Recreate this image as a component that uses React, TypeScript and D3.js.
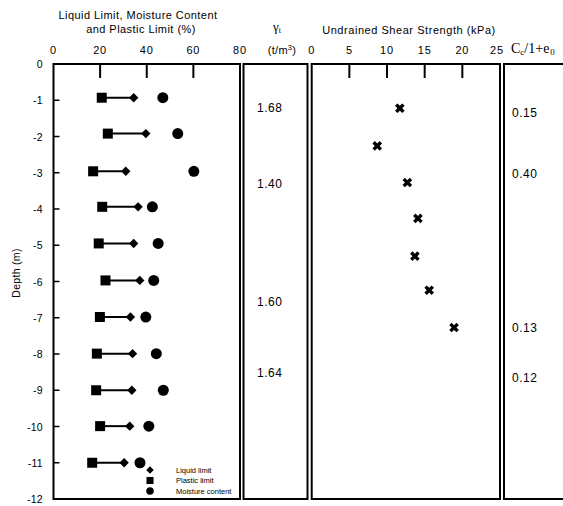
import React from "react";
import * as d3 from "d3";

const depthTicks = [0, -1, -2, -3, -4, -5, -6, -7, -8, -9, -10, -11, -12];
const limitTicks = [0, 20, 40, 60, 80];
const shearTicks = [0, 5, 10, 15, 20, 25];

const sampleDepths = [-0.93, -1.92, -2.96, -3.94, -4.95, -5.97, -6.98, -7.99, -9.0, -9.99, -11.0];
const plasticLimit = [20.7, 23.3, 17.0, 20.9, 19.4, 22.3, 19.9, 18.6, 18.3, 20.0, 16.6];
const liquidLimit = [34.4, 39.6, 31.0, 36.3, 34.4, 37.0, 33.0, 33.9, 33.6, 32.7, 30.3];
const moistureContent = [46.9, 53.3, 60.2, 42.4, 44.9, 43.0, 39.6, 44.1, 47.1, 40.9, 37.1];

const shearDepths = [-1.22, -2.26, -3.27, -4.26, -5.3, -6.24, -7.27];
const shearStrength = [11.7, 8.7, 12.7, 14.1, 13.7, 15.6, 18.9];

const gammaDepths = [-1.2, -3.3, -6.55, -8.5];
const gammaValues = ["1.68", "1.40", "1.60", "1.64"];

const ccDepths = [-1.33, -3.02, -7.28, -8.65];
const ccValues = ["0.15", "0.40", "0.13", "0.12"];

const legendLabels = ["Liquid limit", "Plastic   limit", "Moisture content"];

const FONT = "Liberation Sans, Arial, sans-serif";

export default function App() {
  const W = 563, H = 506;
  const top = 64, bottom = 499;
  const y = d3.scaleLinear().domain([0, -12]).range([top, bottom]);
  const p1 = { l: 53.5, r: 240 };
  const p2 = { l: 243.5, r: 307.5 };
  const p3 = { l: 311.7, r: 500 };
  const p4 = { l: 504, r: 570 };
  const x1 = d3.scaleLinear().domain([0, 80]).range([p1.l, p1.r]);
  const x3 = d3.scaleLinear().domain([0, 25]).range([p3.l, p3.r]);

  const square = d3.symbol().type(d3.symbolSquare).size(100)();
  const diamond = d3.symbol().type(d3.symbolSquare).size(44)();
  const circle = d3.symbol().type(d3.symbolCircle).size(95)();
  const cross = d3.symbol().type(d3.symbolCross).size(58)();
  const sqLeg = d3.symbol().type(d3.symbolSquare).size(50)();
  const diaLeg = d3.symbol().type(d3.symbolSquare).size(28)();
  const cirLeg = d3.symbol().type(d3.symbolCircle).size(45)();

  const panels = [p1, p2, p3, p4];

  return (
    <svg width={W} height={H} style={{ position: "absolute", left: 0, top: 0, background: "#fff" }} fontFamily={FONT}>
      <rect x={0} y={0} width={W} height={H} fill="#fff" />
      {/* headers */}
      <text x={138} y={19} fontSize={11} textAnchor="middle" letterSpacing={0.45}>Liquid Limit, Moisture Content</text>
      <text x={141} y={33} fontSize={11} textAnchor="middle" letterSpacing={0.45}>and Plastic Limit (%)</text>
      {limitTicks.map((t) => (
        <text key={"lt" + t} x={x1(t)} y={54} fontSize={11} textAnchor="middle" letterSpacing={0.8}>{t}</text>
      ))}
      <text x={277} y={31} fontSize={13} textAnchor="middle" fontFamily="Liberation Serif, serif">
        γ<tspan fontSize={8} dy={2}>t</tspan>
      </text>
      <text x={282} y={54} fontSize={11} textAnchor="middle" letterSpacing={0.3}>(t/m<tspan fontSize={7.5} dy={-4}>3</tspan><tspan dy={4}>)</tspan></text>
      <text x={409} y={34} fontSize={11} textAnchor="middle" letterSpacing={0.55}>Undrained Shear Strength (kPa)</text>
      {shearTicks.map((t) => (
        <text key={"st" + t} x={t === 25 ? x3(t) - 3 : x3(t)} y={54} fontSize={11} textAnchor="middle" letterSpacing={0.8}>{t}</text>
      ))}
      <text x={511} y={53} fontSize={14} fontFamily="Liberation Serif, serif">
        C<tspan fontSize={9} dy={2}>c</tspan><tspan dy={-2}>/1+e</tspan><tspan fontSize={9} dy={2} dx={1}>0</tspan>
      </text>

      {/* panel frames */}
      {panels.map((p, i) => (
        <rect key={"pf" + i} x={p.l} y={top} width={p.r - p.l} height={bottom - top} fill="none" stroke="#000" strokeWidth={2} />
      ))}

      {/* depth axis */}
      {depthTicks.map((t) => (
        <g key={"dt" + t}>
          <line x1={p1.l} x2={p1.l + 6} y1={y(t)} y2={y(t)} stroke="#000" strokeWidth={1.5} />
          <text x={43} y={y(t) + 4} fontSize={10.5} textAnchor="end" letterSpacing={0.3}>{t}</text>
        </g>
      ))}
      <text transform={`translate(20,${273}) rotate(-90)`} fontSize={10.5} textAnchor="middle" letterSpacing={0.3}>Depth (m)</text>

      {/* top inner ticks */}
      {limitTicks.slice(1, -1).map((t) => (
        <line key={"lit" + t} x1={x1(t)} x2={x1(t)} y1={top} y2={top + 14} stroke="#000" strokeWidth={2} />
      ))}
      {shearTicks.slice(1, -1).map((t) => (
        <line key={"sit" + t} x1={x3(t)} x2={x3(t)} y1={top} y2={top + 14} stroke="#000" strokeWidth={2} />
      ))}

      {/* limits */}
      {sampleDepths.map((d, i) => (
        <g key={"s" + i}>
          <line x1={x1(plasticLimit[i])} x2={x1(liquidLimit[i])} y1={y(d)} y2={y(d)} stroke="#000" strokeWidth={2} />
          <path d={square} transform={`translate(${x1(plasticLimit[i])},${y(d)})`} fill="#000" />
          <path d={diamond} transform={`translate(${x1(liquidLimit[i])},${y(d)}) rotate(45)`} fill="#000" />
          <path d={circle} transform={`translate(${x1(moistureContent[i])},${y(d)})`} fill="#000" />
        </g>
      ))}

      {/* legend */}
      {[diaLeg, sqLeg, cirLeg].map((s, i) => (
        <g key={"lg" + i}>
          <path d={s} transform={`translate(150,${470 + i * 10.5})${i === 0 ? " rotate(45)" : ""}`} fill="#000" />
          <text x={176} y={472.5 + i * 10.5} fontSize={7.5}>{legendLabels[i]}</text>
        </g>
      ))}

      {/* gamma */}
      {gammaDepths.map((d, i) => (
        <text key={"g" + i} x={257} y={y(d) + 4.5} fontSize={12} letterSpacing={0.5}>{gammaValues[i]}</text>
      ))}

      {/* shear */}
      {shearDepths.map((d, i) => (
        <path key={"sh" + i} d={cross} transform={`translate(${x3(shearStrength[i])},${y(d)}) rotate(45)`} fill="#000" />
      ))}

      {/* Cc */}
      {ccDepths.map((d, i) => (
        <text key={"c" + i} x={512} y={y(d) + 4.5} fontSize={12} letterSpacing={0.5}>{ccValues[i]}</text>
      ))}
    </svg>
  );
}
